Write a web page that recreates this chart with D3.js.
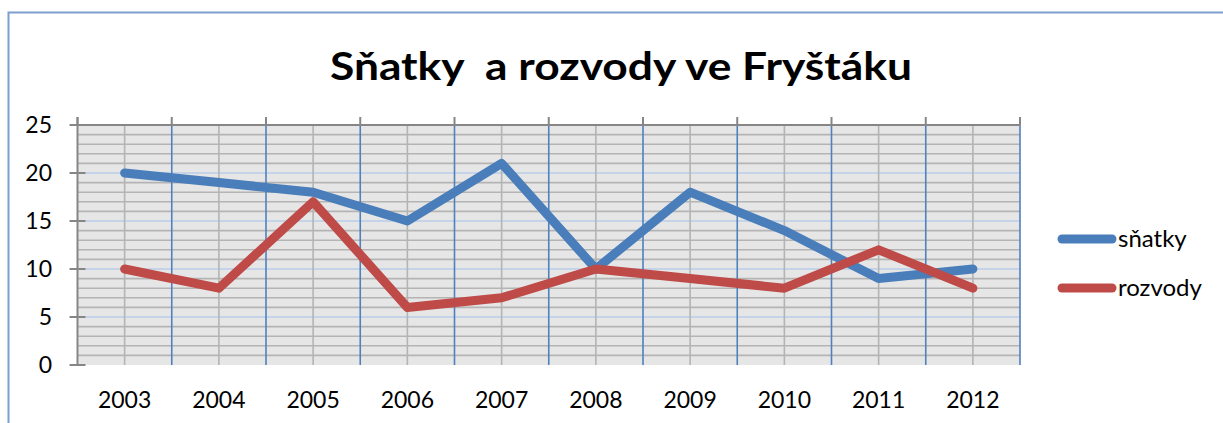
<!DOCTYPE html>
<html><head><meta charset="utf-8">
<script src="https://cdn.jsdelivr.net/npm/d3@7"></script>
<style>
html,body{margin:0;padding:0;background:#fff;}
svg{display:block;}
text{font-family:Lato, "Open Sans", sans-serif;fill:#000;}
</style></head>
<body>
<svg id="c" width="1223" height="423"></svg>
<script>
const years = ["2003","2004","2005","2006","2007","2008","2009","2010","2011","2012"];
const snatky = [20,19,18,15,21,10,18,14,9,10];
const rozvody = [10,8,17,6,7,10,9,8,12,8];
const yTicks = [0,5,10,15,20,25];
const seriesNames = ["sňatky","rozvody"];
const seriesColors = ["#4a7ebb","#be4b48"];
const title = "Sňatky  a rozvody ve Fryštáku";

const svg = d3.select("#c");
const W = 1223, H = 423;
const L = 77.5, R = 1020, T = 125, B = 365;

// chart border
svg.append("path").attr("d", `M8.5,${H} V12.5 H${W}`).attr("fill","none")
  .attr("stroke","#7ba0d0").attr("stroke-width",2);

const x = d3.scaleBand().domain(years).range([L,R]).padding(0);
const y = d3.scaleLinear().domain([0,25]).range([B,T]);

const g = svg.append("g");
g.append("rect").attr("x",L).attr("y",T).attr("width",R-L).attr("height",B-T).attr("fill","#e6e6e6");

// minor horizontal grid (each unit)
const minor = d3.range(1,25).filter(v=>v%5!==0);
g.selectAll(".hmin").data(minor).join("line")
  .attr("x1",L).attr("x2",R).attr("y1",d=>y(d)).attr("y2",d=>y(d))
  .attr("stroke","#b4b4b4").attr("stroke-width",1.6);
// major horizontal grid
g.selectAll(".hmaj").data(yTicks.filter(v=>v>0&&v<25)).join("line")
  .attr("x1",L).attr("x2",R).attr("y1",d=>y(d)).attr("y2",d=>y(d))
  .attr("stroke","#b9cde8").attr("stroke-width",1.6);
// vertical minor at category centers
g.selectAll(".vmin").data(years).join("line")
  .attr("x1",d=>x(d)+x.bandwidth()/2).attr("x2",d=>x(d)+x.bandwidth()/2)
  .attr("y1",T).attr("y2",B).attr("stroke","#b4b4b4").attr("stroke-width",1.6);
// vertical major at category boundaries
g.selectAll(".vmaj").data(years.slice(1).concat(["end"])).join("line")
  .attr("x1",(d,i)=> i<years.length-1 ? x(d) : R).attr("x2",(d,i)=> i<years.length-1 ? x(d) : R)
  .attr("y1",T).attr("y2",B).attr("stroke","#4f81bd").attr("stroke-width",1.6);

// top axis line with upward ticks at boundaries
g.append("line").attr("x1",L).attr("x2",R).attr("y1",T).attr("y2",T)
  .attr("stroke","#868686").attr("stroke-width",2);
const bounds = years.map(d=>x(d)).concat([R]);
g.selectAll(".xt").data(bounds).join("line")
  .attr("x1",d=>d).attr("x2",d=>d).attr("y1",T-8).attr("y2",T)
  .attr("stroke","#868686").attr("stroke-width",2);

// left axis
g.append("line").attr("x1",L).attr("x2",L).attr("y1",T-8).attr("y2",B)
  .attr("stroke","#868686").attr("stroke-width",2);
g.selectAll(".yt").data(yTicks).join("line")
  .attr("x1",L-8).attr("x2",L+8).attr("y1",d=>y(d)).attr("y2",d=>y(d))
  .attr("stroke","#868686").attr("stroke-width",2);
g.selectAll(".yl").data(yTicks).join("text")
  .attr("x",52).attr("y",d=>y(d)).attr("dy","0.36em").attr("text-anchor","end")
  .attr("font-size",23).text(d=>d);

// x labels
g.selectAll(".xl").data(years).join("text")
  .attr("x",d=>x(d)+x.bandwidth()/2).attr("y",408).attr("text-anchor","middle")
  .attr("font-size",23).text(d=>d);

// lines
const line = d3.line().x((d,i)=>x(years[i])+x.bandwidth()/2).y(d=>y(d));
[snatky, rozvody].forEach((s,k)=>{
  g.append("path").attr("d",line(s)).attr("fill","none")
    .attr("stroke",seriesColors[k]).attr("stroke-width",9)
    .attr("stroke-linejoin","round").attr("stroke-linecap","round");
});

// legend
seriesNames.forEach((n,k)=>{
  const ly = 239 + k*49;
  svg.append("line").attr("x1",1062).attr("x2",1112).attr("y1",ly).attr("y2",ly)
    .attr("stroke",seriesColors[k]).attr("stroke-width",9).attr("stroke-linecap","round");
  svg.append("text").attr("x",1118).attr("y",ly).attr("dy","0.33em")
    .attr("font-size",24).text(n);
});

// title
svg.append("text").attr("x",330).attr("y",80).attr("text-anchor","start")
  .attr("font-size",39).attr("font-weight","bold").style("white-space","pre")
  .attr("textLength",582).attr("lengthAdjust","spacingAndGlyphs").text(title);
</script>
</body></html>
